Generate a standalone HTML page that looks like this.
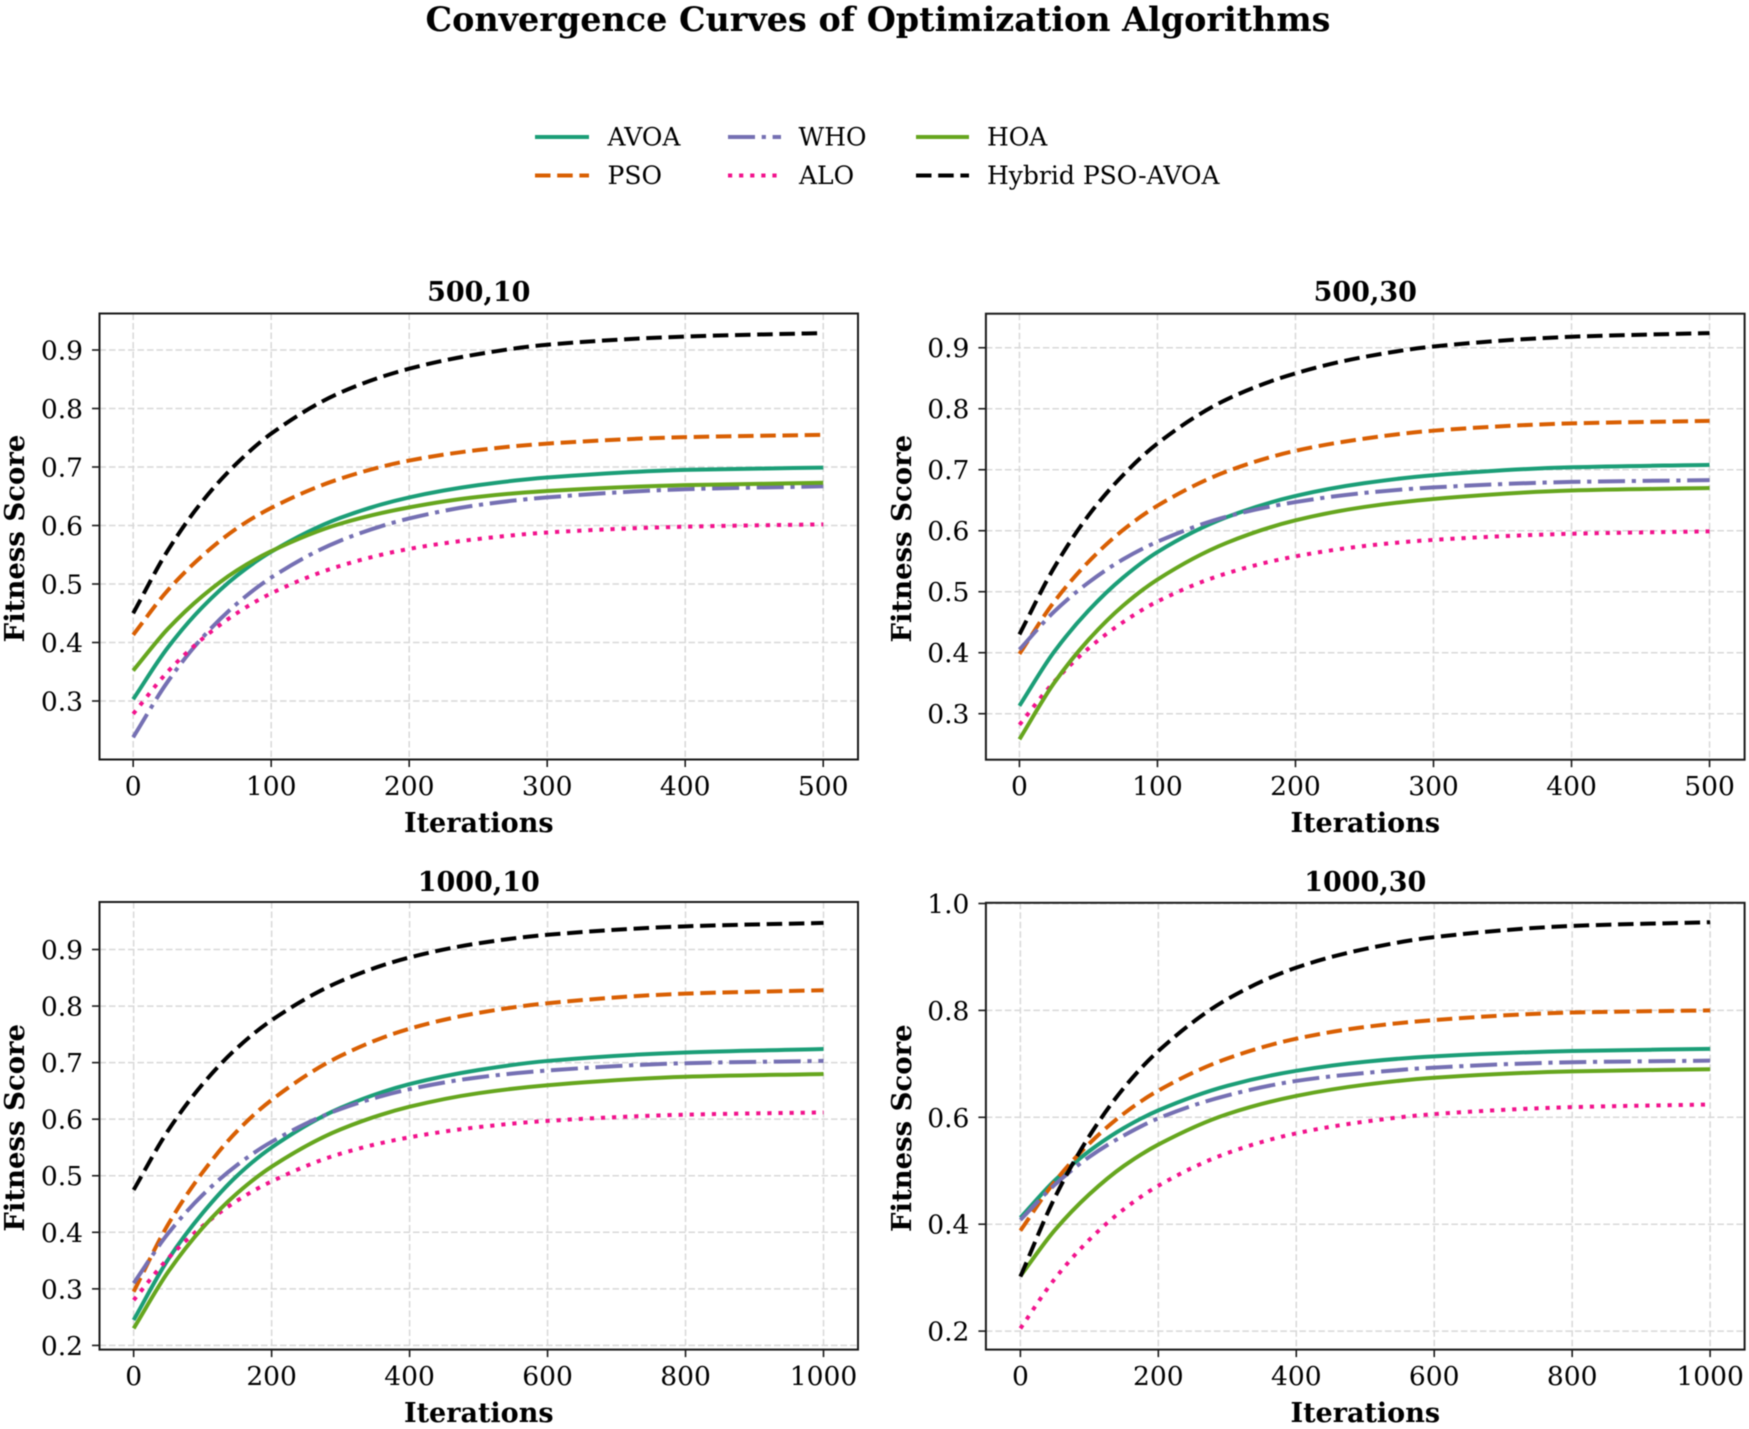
<!DOCTYPE html>
<html lang="en">
<head>
<meta charset="utf-8">
<title>Convergence Curves of Optimization Algorithms</title>
<style>
html,body{margin:0;padding:0;background:#fff;width:1749px;height:1429px;overflow:hidden}
svg{display:block;filter:blur(0.45px)}
text{font-family:"DejaVu Serif","Liberation Serif",serif;fill:#000}
</style>
</head>
<body>
<svg id="figure" xmlns="http://www.w3.org/2000/svg" width="1749" height="1429" viewBox="0 0 1749 1429">
  <rect width="1749" height="1429" fill="#fff"/>
  <text x="878" y="31" text-anchor="middle" font-size="33.4" font-weight="700">Convergence Curves of Optimization Algorithms</text>
  <g font-size="25">
    <line x1="535" x2="589" y1="137" y2="137" stroke="#1b9e77" stroke-width="4"/>
    <text x="607.5" y="145.5" font-size="25">AVOA</text>
    <line x1="535" x2="589" y1="175.5" y2="175.5" stroke="#d95f02" stroke-width="4" stroke-dasharray="15.5 6.7"/>
    <text x="607.5" y="184" font-size="25">PSO</text>
    <line x1="728" x2="781" y1="137" y2="137" stroke="#7570b3" stroke-width="4" stroke-dasharray="27 6.7 4.2 6.7"/>
    <text x="798.5" y="145.5" font-size="25">WHO</text>
    <line x1="728" x2="781" y1="175.5" y2="175.5" stroke="#f2128c" stroke-width="4" stroke-dasharray="4.2 6.9"/>
    <text x="799" y="184" font-size="25">ALO</text>
    <line x1="916" x2="969" y1="137" y2="137" stroke="#66a61e" stroke-width="4"/>
    <text x="987" y="145.5" font-size="25">HOA</text>
    <line x1="916" x2="969" y1="175.5" y2="175.5" stroke="#000" stroke-width="4" stroke-dasharray="15.5 6.7"/>
    <text x="987" y="184" font-size="25">Hybrid PSO-AVOA</text>
  </g>
</svg>
<script>
// Shared categories and tick labels
const iterations500 = [0,25,50,75,100,150,200,250,300,400,500];
const iterations1000 = [0,50,100,150,200,300,400,500,600,800,1000];
const xTicks500 = [0,100,200,300,400,500];
const xTicks1000 = [0,200,400,600,800,1000];
const yTicks500x10 = [0.3,0.4,0.5,0.6,0.7,0.8,0.9];
const yTicks500x30 = [0.3,0.4,0.5,0.6,0.7,0.8,0.9];
const yTicks1000x10 = [0.2,0.3,0.4,0.5,0.6,0.7,0.8,0.9];
const yTicks1000x30 = [0.2,0.4,0.6,0.8,1.0];

// Panel 500,10
const avoa500x10 = [.303,.391,.460,.514,.555,.613,.648,.669,.682,.695,.699];
const pso500x10 = [.413,.489,.548,.595,.630,.680,.711,.729,.740,.751,.755];
const who500x10 = [.238,.333,.408,.466,.511,.574,.612,.635,.648,.662,.667];
const alo500x10 = [.278,.350,.406,.450,.484,.531,.560,.577,.588,.598,.602];
const hoa500x10 = [.352,.423,.479,.523,.556,.603,.631,.649,.659,.669,.673];
const hybrid500x10 = [.450,.557,.641,.706,.757,.827,.868,.893,.909,.923,.929];

// Panel 500,30
const avoa500x30 = [.313,.401,.469,.523,.565,.622,.657,.678,.691,.704,.708];
const pso500x30 = [.398,.483,.549,.601,.641,.697,.731,.751,.764,.776,.780];
const who500x30 = [.405,.467,.515,.553,.582,.623,.647,.662,.671,.680,.683];
const alo500x30 = [.282,.352,.407,.450,.484,.530,.558,.575,.585,.595,.599];
const hoa500x30 = [.258,.350,.421,.477,.520,.580,.617,.639,.652,.666,.670];
const hybrid500x30 = [.430,.539,.625,.691,.743,.815,.858,.885,.902,.918,.924];

// Panel 1000,10
const avoa1000x10 = [.245,.352,.434,.500,.550,.620,.662,.687,.703,.718,.724];
const pso1000x10 = [.295,.414,.506,.579,.634,.712,.760,.788,.805,.822,.828];
const who1000x10 = [.310,.398,.466,.519,.560,.618,.653,.674,.686,.699,.703];
const alo1000x10 = [.280,.354,.411,.456,.490,.539,.568,.586,.597,.608,.612];
const hoa1000x10 = [.230,.330,.408,.469,.516,.582,.622,.646,.660,.675,.680];
const hybrid1000x10 = [.475,.580,.662,.726,.775,.844,.886,.911,.926,.941,.947];

// Panel 1000,30
const avoa1000x30 = [.412,.482,.537,.580,.613,.659,.687,.704,.714,.724,.728];
const pso1000x30 = [.388,.480,.551,.607,.650,.710,.747,.769,.782,.796,.800];
const who1000x30 = [.408,.474,.526,.566,.598,.641,.668,.683,.693,.703,.706];
const alo1000x30 = [.205,.298,.371,.428,.472,.533,.570,.592,.606,.619,.624];
const hoa1000x30 = [.303,.389,.456,.509,.549,.606,.640,.661,.674,.686,.690];
const hybrid1000x30 = [.302,.450,.565,.655,.724,.821,.880,.915,.937,.958,.965];

const NS = 'http://www.w3.org/2000/svg';
const fig = document.getElementById('figure');

const styles = {
  avoa:{color:'#1b9e77',dash:''},
  pso:{color:'#d95f02',dash:'15.5 6.7'},
  who:{color:'#7570b3',dash:'27 6.7 4.2 6.7'},
  alo:{color:'#f2128c',dash:'4.2 6.9'},
  hoa:{color:'#66a61e',dash:''},
  hybrid:{color:'#000000',dash:'15.5 6.7'}
};

const panels = [
  {key:'500-10',title:'500,10',iters:iterations500,xTicks:xTicks500,yTicks:yTicks500x10,
   box:{l:99.5,r:858,t:313.5,b:759.5},xDom:[-24.4,525.2],yDom:[0.2,0.9624],titleY:301,xTickY:795,xLabelY:832,yLabelX:24,
   series:{avoa:avoa500x10,pso:pso500x10,who:who500x10,alo:alo500x10,hoa:hoa500x10,hybrid:hybrid500x10}},
  {key:'500-30',title:'500,30',iters:iterations500,xTicks:xTicks500,yTicks:yTicks500x30,
   box:{l:985.9,r:1744.6,t:313.7,b:759.7},xDom:[-24.3,525.4],yDom:[0.2246,0.9558],titleY:301,xTickY:795,xLabelY:832,yLabelX:911,
   series:{avoa:avoa500x30,pso:pso500x30,who:who500x30,alo:alo500x30,hoa:hoa500x30,hybrid:hybrid500x30}},
  {key:'1000-10',title:'1000,10',iters:iterations1000,xTicks:xTicks1000,yTicks:yTicks1000x10,
   box:{l:99.5,r:858,t:902,b:1349.6},xDom:[-49.5,1050],yDom:[0.1926,0.984],titleY:891,xTickY:1385,xLabelY:1422,yLabelX:24,
   series:{avoa:avoa1000x10,pso:pso1000x10,who:who1000x10,alo:alo1000x10,hoa:hoa1000x10,hybrid:hybrid1000x10}},
  {key:'1000-30',title:'1000,30',iters:iterations1000,xTicks:xTicks1000,yTicks:yTicks1000x30,
   box:{l:985.9,r:1744.6,t:902.8,b:1349.6},xDom:[-50,1050],yDom:[0.1654,1.0013],titleY:891,xTickY:1385,xLabelY:1422,yLabelX:911,
   series:{avoa:avoa1000x30,pso:pso1000x30,who:who1000x30,alo:alo1000x30,hoa:hoa1000x30,hybrid:hybrid1000x30}}
];

function make(parent, tag, attrs, content) {
  const el = document.createElementNS(NS, tag);
  for (const k in attrs) el.setAttribute(k, attrs[k]);
  if (content !== undefined) el.textContent = content;
  parent.appendChild(el);
  return el;
}

// Smooth monotone path through the data points
function curvePath(px, py) {
  const n = px.length, d = [], m = [];
  for (let i = 0; i < n - 1; i++) d.push((py[i+1]-py[i])/(px[i+1]-px[i]));
  m[0] = d[0]; m[n-1] = d[n-2];
  for (let i = 1; i < n - 1; i++) {
    const h0 = px[i]-px[i-1], h1 = px[i+1]-px[i];
    m[i] = d[i-1]*d[i] <= 0 ? 0 : (h0+h1)*3/((2*h1+h0)/d[i-1]+(h1+2*h0)/d[i]);
  }
  let s = 'M' + px[0].toFixed(2) + ' ' + py[0].toFixed(2);
  for (let i = 0; i < n - 1; i++) {
    const h = (px[i+1]-px[i])/3;
    s += 'C' + (px[i]+h).toFixed(2) + ' ' + (py[i]+m[i]*h).toFixed(2) + ' ' +
         (px[i+1]-h).toFixed(2) + ' ' + (py[i+1]-m[i+1]*h).toFixed(2) + ' ' +
         px[i+1].toFixed(2) + ' ' + py[i+1].toFixed(2);
  }
  return s;
}

panels.forEach(function (p) {
  const b = p.box;
  const sx = v => b.l + (v - p.xDom[0]) / (p.xDom[1] - p.xDom[0]) * (b.r - b.l);
  const sy = v => b.b - (v - p.yDom[0]) / (p.yDom[1] - p.yDom[0]) * (b.b - b.t);
  const midX = (b.l + b.r) / 2, midY = (b.t + b.b) / 2;

  const g = make(fig, 'g', {});
  
  

  const grid = make(g, 'g', {stroke:'#d8d8d8','stroke-width':1.5,'stroke-dasharray':'6.5 3'});
  
  
  p.xTicks.forEach(function (t) {
    const gridLine = make(grid, 'line', {x1:sx(t),x2:sx(t),y1:b.t,y2:b.b});
    
    
  });
  p.yTicks.forEach(function (t) {
    const gridLine = make(grid, 'line', {x1:b.l,x2:b.r,y1:sy(t),y2:sy(t)});
    
    
  });

  Object.keys(p.series).forEach(function (name) {
    const vals = p.series[name];
    const path = make(g, 'path', {
      d: curvePath(p.iters.map(sx), vals.map(sy)),
      fill: 'none',
      stroke: styles[name].color,
      'stroke-width': 4,
      'stroke-linejoin': 'round',
      'stroke-dasharray': styles[name].dash || 'none'
    });
    
    
  });

  const frame = make(g, 'rect', {x:b.l,y:b.t,width:b.r-b.l,height:b.b-b.t,fill:'none',stroke:'#1a1a1a','stroke-width':2});
  
  

  p.xTicks.forEach(function (t) {
    const tick = make(g, 'line', {x1:sx(t),x2:sx(t),y1:b.b,y2:b.b+7.5,stroke:'#1a1a1a','stroke-width':1.6});
    
    
    const label = make(g, 'text', {x:sx(t),y:p.xTickY,'text-anchor':'middle','font-size':26.5}, String(t));
    
    
  });
  p.yTicks.forEach(function (t) {
    const tick = make(g, 'line', {x1:b.l-7.5,x2:b.l,y1:sy(t),y2:sy(t),stroke:'#1a1a1a','stroke-width':1.6});
    
    
    const label = make(g, 'text', {x:b.l-16.5,y:sy(t)+9.5,'text-anchor':'end','font-size':26.5}, t.toFixed(1));
    
    
  });

  const title = make(g, 'text', {x:midX,y:p.titleY,'text-anchor':'middle','font-size':27,'font-weight':700}, p.title);
  
  

  const xLabel = make(g, 'text', {x:midX,y:p.xLabelY,'text-anchor':'middle','font-size':27,'font-weight':700}, 'Iterations');
  
  

  const yCenter = midY + 2;
  const yLabel = make(g, 'text', {x:p.yLabelX,y:yCenter,'text-anchor':'middle','font-size':27.5,'font-weight':700,
    transform:'rotate(-90 ' + p.yLabelX + ' ' + yCenter + ')'}, 'Fitness Score');
  
  
});
</script>
</body>
</html>
